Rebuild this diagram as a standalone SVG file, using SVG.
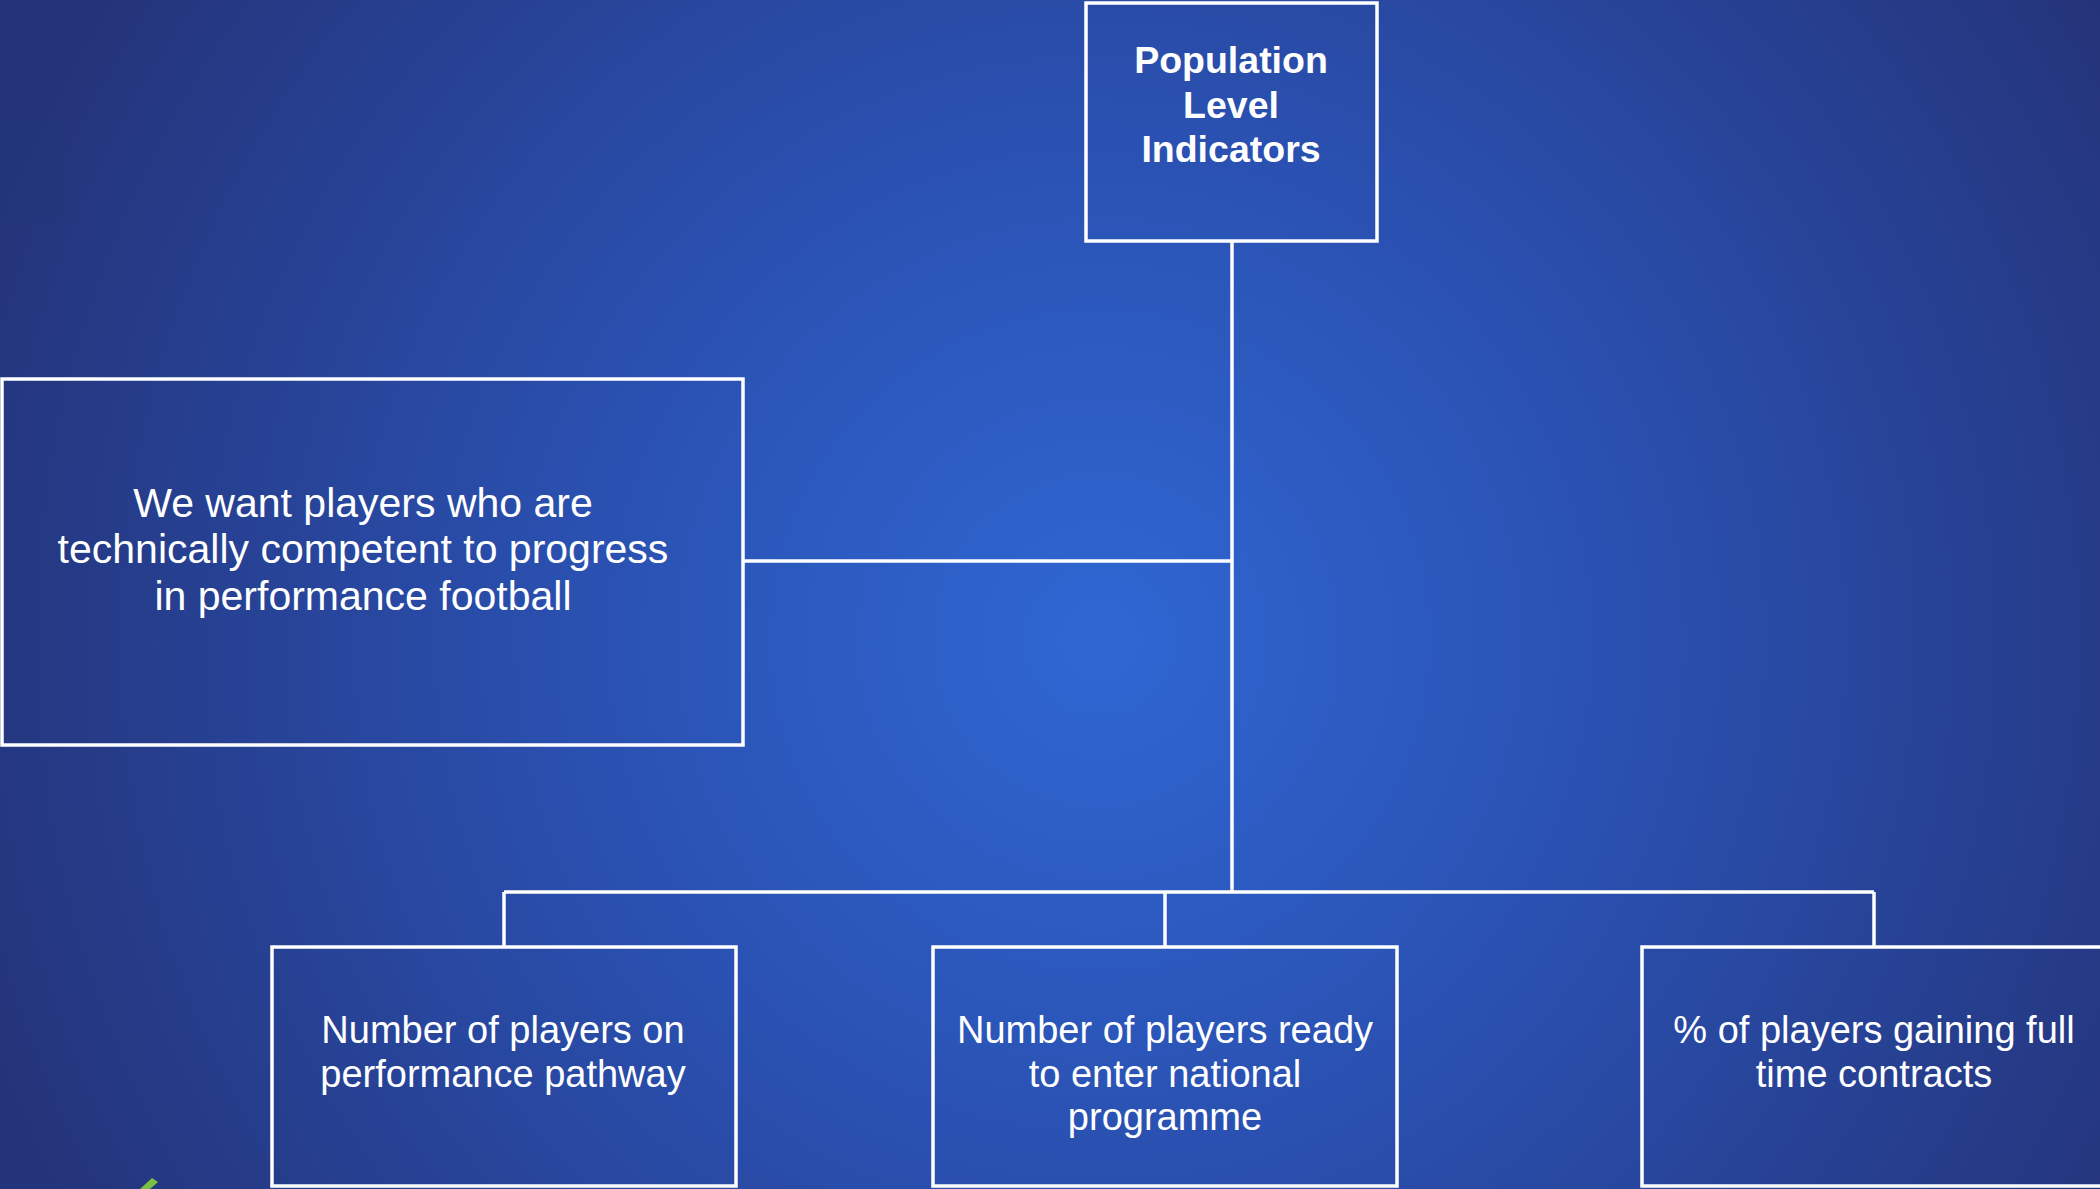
<svg xmlns="http://www.w3.org/2000/svg" width="2100" height="1189" viewBox="0 0 2100 1189">
  <defs>
    <radialGradient id="bg" gradientUnits="userSpaceOnUse" cx="1100" cy="640" r="1180">
      <stop offset="0" stop-color="#2f67d3"/>
      <stop offset="0.45" stop-color="#2a50b0"/>
      <stop offset="1" stop-color="#24347a"/>
    </radialGradient>
    <style>
      .box { fill: none; stroke: #ffffff; stroke-width: 3.5; }
      .conn { fill: none; stroke: #ffffff; stroke-width: 3.5; }
      .title { font-family: "Liberation Sans", Arial, sans-serif; font-weight: bold; font-size: 37.5px; fill: #ffffff; text-anchor: middle; }
      .lbl { font-family: "Liberation Sans", Arial, sans-serif; font-size: 38px; fill: #ffffff; text-anchor: middle; }
      .lbl2 { font-family: "Liberation Sans", Arial, sans-serif; font-size: 41px; fill: #ffffff; text-anchor: middle; }
    </style>
  </defs>
  <rect x="0" y="0" width="2100" height="1189" fill="url(#bg)"/>
  <rect x="0" y="120" width="63" height="101" fill="#23377a" opacity="0.6"/>
  <path d="M140 1189 L152 1178 L158 1182 L150 1189 Z" fill="#7ac143"/>

  <g id="connectors">
    <line class="conn" x1="1232" y1="241" x2="1232" y2="892"/>
    <line class="conn" x1="743" y1="561" x2="1232" y2="561"/>
    <line class="conn" x1="504" y1="892" x2="1874" y2="892"/>
    <line class="conn" x1="504" y1="892" x2="504" y2="947"/>
    <line class="conn" x1="1165" y1="892" x2="1165" y2="947"/>
    <line class="conn" x1="1874" y1="892" x2="1874" y2="947"/>
  </g>

  <g id="node-top">
    <rect class="box" x="1086" y="3" width="291" height="238"/>
    <text class="title" x="1231" y="73">Population</text>
    <text class="title" x="1231" y="118">Level</text>
    <text class="title" x="1231" y="162">Indicators</text>
  </g>

  <g id="node-left">
    <rect class="box" x="2" y="379" width="741" height="366"/>
    <text class="lbl2" x="363" y="517">We want players who are</text>
    <text class="lbl2" x="363" y="563">technically competent to progress</text>
    <text class="lbl2" x="363" y="610">in performance football</text>
  </g>

  <g id="node-b1">
    <rect class="box" x="272" y="947" width="464" height="239"/>
    <text class="lbl" x="503" y="1043">Number of players on</text>
    <text class="lbl" x="503" y="1087">performance pathway</text>
  </g>

  <g id="node-b2">
    <rect class="box" x="933" y="947" width="464" height="239"/>
    <text class="lbl" x="1165" y="1043">Number of players ready</text>
    <text class="lbl" x="1165" y="1087">to enter national</text>
    <text class="lbl" x="1165" y="1130">programme</text>
  </g>

  <g id="node-b3">
    <rect class="box" x="1642" y="947" width="500" height="239"/>
    <text class="lbl" x="1874" y="1043">% of players gaining full</text>
    <text class="lbl" x="1874" y="1087">time contracts</text>
  </g>
</svg>
